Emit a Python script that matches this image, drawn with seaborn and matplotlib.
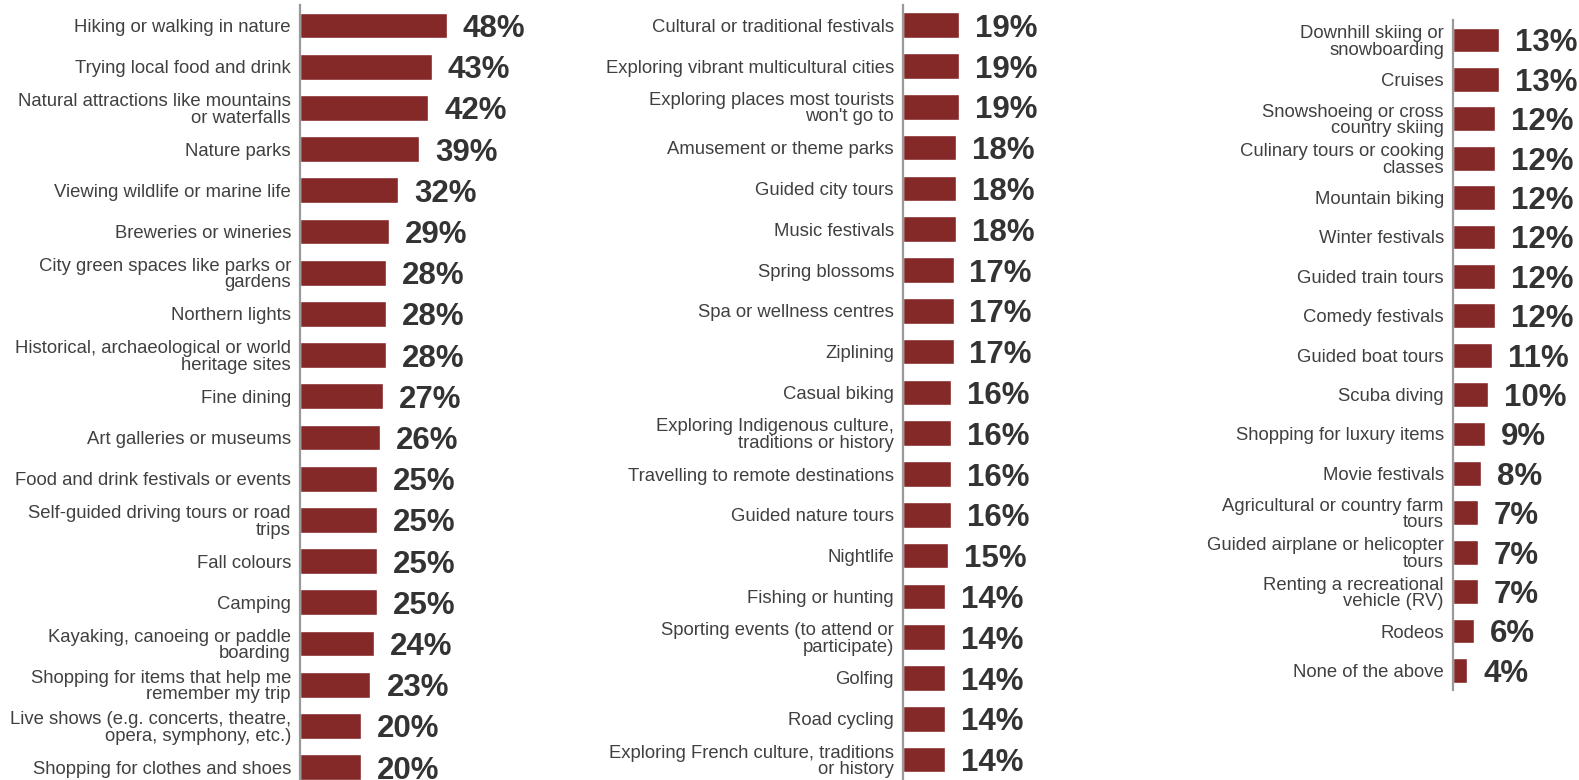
import matplotlib
matplotlib.use("Agg")
import matplotlib.pyplot as plt
import seaborn as sns

# three columns of activities with the share of respondents (%)
labels_1 = [
    "Hiking or walking in nature",
    "Trying local food and drink",
    "Natural attractions like mountains\nor waterfalls",
    "Nature parks",
    "Viewing wildlife or marine life",
    "Breweries or wineries",
    "City green spaces like parks or\ngardens",
    "Northern lights",
    "Historical, archaeological or world\nheritage sites",
    "Fine dining",
    "Art galleries or museums",
    "Food and drink festivals or events",
    "Self-guided driving tours or road\ntrips",
    "Fall colours",
    "Camping",
    "Kayaking, canoeing or paddle\nboarding",
    "Shopping for items that help me\nremember my trip",
    "Live shows (e.g. concerts, theatre,\nopera, symphony, etc.)",
    "Shopping for clothes and shoes",
]
values_1 = [48, 43, 42, 39, 32, 29, 28, 28, 28, 27, 26, 25, 25, 25, 25, 24, 23, 20, 20]

labels_2 = [
    "Cultural or traditional festivals",
    "Exploring vibrant multicultural cities",
    "Exploring places most tourists\nwon't go to",
    "Amusement or theme parks",
    "Guided city tours",
    "Music festivals",
    "Spring blossoms",
    "Spa or wellness centres",
    "Ziplining",
    "Casual biking",
    "Exploring Indigenous culture,\ntraditions or history",
    "Travelling to remote destinations",
    "Guided nature tours",
    "Nightlife",
    "Fishing or hunting",
    "Sporting events (to attend or\nparticipate)",
    "Golfing",
    "Road cycling",
    "Exploring French culture, traditions\nor history",
]
values_2 = [19, 19, 19, 18, 18, 18, 17, 17, 17, 16, 16, 16, 16, 15, 14, 14, 14, 14, 14]

labels_3 = [
    "Downhill skiing or\nsnowboarding",
    "Cruises",
    "Snowshoeing or cross\ncountry skiing",
    "Culinary tours or cooking\nclasses",
    "Mountain biking",
    "Winter festivals",
    "Guided train tours",
    "Comedy festivals",
    "Guided boat tours",
    "Scuba diving",
    "Shopping for luxury items",
    "Movie festivals",
    "Agricultural or country farm\ntours",
    "Guided airplane or helicopter\ntours",
    "Renting a recreational\nvehicle (RV)",
    "Rodeos",
    "None of the above",
]
values_3 = [13, 13, 12, 12, 12, 12, 12, 12, 11, 10, 9, 8, 7, 7, 7, 6, 4]

sns.set_style("white")
plt.rcParams["font.family"] = ["Liberation Sans", "DejaVu Sans"]

bar_color = "#842828"
label_color = "#404040"
pct_color = "#333333"

W, H = 1579, 780
fig = plt.figure(figsize=(W / 100, H / 100), dpi=100)

# (left px, top px, width px, height px, xmax) for each column
panels = [
    (labels_1, values_1, 300.3, 4.9, 260, 19 * 41.2, 85.2),
    (labels_2, values_2, 903.3, 4.8, 247, 19 * 40.8, 83.6),
    (labels_3, values_3, 1453.3, 20.3, 126, 17 * 39.4, 36.0),
]

for labels, values, left, top, width, height, xmax in panels:
    ax = fig.add_axes([left / W, 1 - (top + height) / H, width / W, height / H])
    sns.barplot(x=values, y=labels, ax=ax, color=bar_color, saturation=1,
                width=0.63, orient="h")
    texts = ax.bar_label(ax.containers[0], labels=[f"{v}%" for v in values],
                         padding=11.5, fontsize=22.5, fontweight="bold", color=pct_color)
    for t in texts:
        t.set_va("center_baseline")
    ax.set_xlim(0, xmax)
    ax.set_xlabel("")
    ax.set_ylabel("")
    ax.set_xticks([])
    ax.tick_params(axis="y", length=0, pad=6.7, labelsize=13.3, labelcolor=label_color)
    for t in ax.get_yticklabels():
        t.set_linespacing(0.97)
    for s in ["top", "right", "bottom"]:
        ax.spines[s].set_visible(False)
    ax.spines["left"].set_color("#9a9a9a")
    ax.spines["left"].set_linewidth(1.6)
    ax.patch.set_alpha(0)

fig.savefig("out.png", dpi=100)
